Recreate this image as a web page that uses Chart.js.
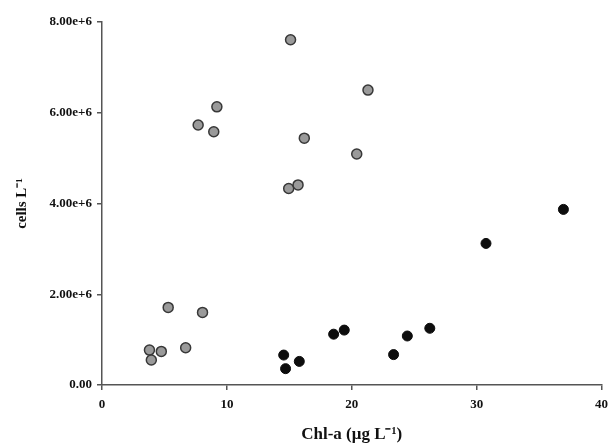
<!DOCTYPE html>
<html>
<head>
<meta charset="utf-8">
<script src="https://cdn.jsdelivr.net/npm/chart.js@4"></script>
<style>
  html, body { margin: 0; padding: 0; background: #fff; }
  #wrap { width: 615px; height: 447px; }
</style>
</head>
<body>
<div id="wrap"><canvas id="chart" width="615" height="447"></canvas></div>
<script>
// Grey group: chl-a vs cells L-1
const greyChl = [15.1, 9.2, 7.7, 8.95, 16.2, 14.95, 15.7, 21.3, 20.4, 5.3, 8.05, 3.8, 3.95, 4.75, 6.7];
const greyCells = [7.61e6, 6.13e6, 5.73e6, 5.58e6, 5.44e6, 4.33e6, 4.41e6, 6.5e6, 5.09e6, 1.71e6, 1.6e6, 0.77e6, 0.55e6, 0.74e6, 0.82e6];

// Black group
const blackChl = [14.55, 14.7, 15.8, 18.55, 19.4, 23.35, 24.45, 26.25, 30.75, 36.95];
const blackCells = [0.66e6, 0.36e6, 0.52e6, 1.12e6, 1.21e6, 0.67e6, 1.08e6, 1.25e6, 3.12e6, 3.87e6];

const xTicks = [0, 10, 20, 30, 40];
const yTicks = [0, 2e6, 4e6, 6e6, 8e6];

const toPoints = (xs, ys) => xs.map((x, i) => ({ x: x, y: ys[i] }));

const axisColor = '#555';
const textColor = '#111';
const serif = "'Liberation Serif', 'Times New Roman', serif";

new Chart(document.getElementById('chart'), {
  type: 'scatter',
  data: {
    datasets: [
      {
        label: 'grey',
        data: toPoints(greyChl, greyCells),
        backgroundColor: '#9a9a9a',
        borderColor: '#383838',
        borderWidth: 1.5,
        pointRadius: 5,
      },
      {
        label: 'black',
        data: toPoints(blackChl, blackCells),
        backgroundColor: '#0d0d0d',
        borderColor: '#0d0d0d',
        borderWidth: 1,
        pointRadius: 5,
      }
    ]
  },
  options: {
    responsive: false,
    animation: false,
    layout: { padding: { top: 22, right: 9, left: 0, bottom: 0 } },
    plugins: {
      legend: { display: false },
      tooltip: { enabled: false }
    },
    scales: {
      x: {
        type: 'linear',
        min: 0,
        max: 40,
        afterFit: (s) => { s.height = 62; },
        afterBuildTicks: (s) => { s.ticks = xTicks.map(v => ({ value: v })); },
        border: { display: true, color: axisColor, width: 1.5 },
        grid: { drawOnChartArea: false, drawTicks: true, tickLength: 5, color: axisColor, lineWidth: 1.5 },
        ticks: {
          color: textColor,
          padding: 7,
          maxRotation: 0,
          font: { family: serif, size: 13, weight: 'bold' }
        },
        title: {
          display: true,
          text: 'Chl-a (μg L⁻¹)',
          color: textColor,
          padding: { top: 0, bottom: 2 },
          font: { family: serif, size: 17, weight: 'bold' }
        }
      },
      y: {
        type: 'linear',
        min: 0,
        max: 8e6,
        afterFit: (s) => { s.width = 102; },
        afterBuildTicks: (s) => { s.ticks = yTicks.map(v => ({ value: v })); },
        border: { display: true, color: axisColor, width: 1.5 },
        grid: { drawOnChartArea: false, drawTicks: true, tickLength: 5, color: axisColor, lineWidth: 1.5 },
        ticks: {
          color: textColor,
          padding: 5,
          font: { family: serif, size: 13, weight: 'bold' },
          callback: (v) => v === 0 ? '0.00' : (v / 1e6).toFixed(2) + 'e+6'
        },
        title: {
          display: true,
          text: 'cells L⁻¹',
          color: textColor,
          padding: { top: 13, bottom: 0 },
          font: { family: serif, size: 15, weight: 'bold' }
        }
      }
    }
  }
});
</script>
</body>
</html>
